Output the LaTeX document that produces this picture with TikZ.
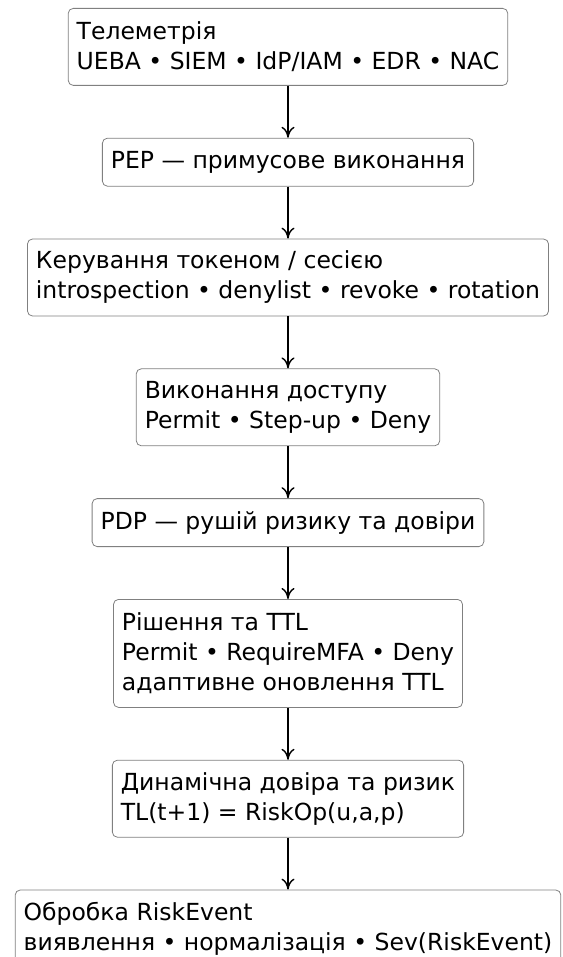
\documentclass[tikz,border=0pt]{standalone}
\usepackage{fontspec}
\setmainfont{DejaVu Sans}
\usetikzlibrary{positioning,arrows.meta}
\begin{document}
\begin{tikzpicture}[
    x=1pt, y=1pt,
    node distance=52pt,
    box/.style={draw=black!50, line width=0.8pt, rounded corners=5pt, align=left,
      inner xsep=8.5pt, inner ysep=0pt, font=\fontsize{23.5}{30}\selectfont},
    oneline/.style={box, minimum height=48pt},
    twoline/.style={box, minimum height=77pt},
    threeline/.style={box, minimum height=108pt},
    flow/.style={line width=1.4pt, -{To[length=11pt,width=13pt]}}
  ]
  \useasboundingbox (0,0) rectangle (562,-957);
  \clip (0,0) rectangle (562,-957);
  % boxes
  \node[twoline, anchor=north] (tel) at (288,-8) {Телеметрія\\UEBA • SIEM • IdP/IAM • EDR • NAC};
  \node[oneline, below=of tel] (pep) {PEP — примусове виконання};
  \node[twoline, below=of pep] (tok) {Керування токеном / сесією\\introspection • denylist • revoke • rotation};
  \node[twoline, below=of tok] (acc) {Виконання доступу\\Permit • Step-up • Deny};
  \node[oneline, below=of acc] (pdp) {PDP — рушій ризику та довіри};
  \node[threeline, below=of pdp] (dec) {Рішення та TTL\\Permit • RequireMFA • Deny\\адаптивне оновлення TTL};
  \node[twoline, below=of dec] (trust) {Динамічна довіра та ризик\\TL(t+1) = RiskOp(u,a,p)};
  \node[twoline, below=of trust] (evt) {Обробка RiskEvent\\виявлення • нормалізація • Sev(RiskEvent)};
  % arrows
  \foreach \a/\b in {tel/pep, pep/tok, tok/acc, acc/pdp, pdp/dec, dec/trust, trust/evt}
    \draw[flow] (\a) -- (\b);
\end{tikzpicture}
\end{document}
